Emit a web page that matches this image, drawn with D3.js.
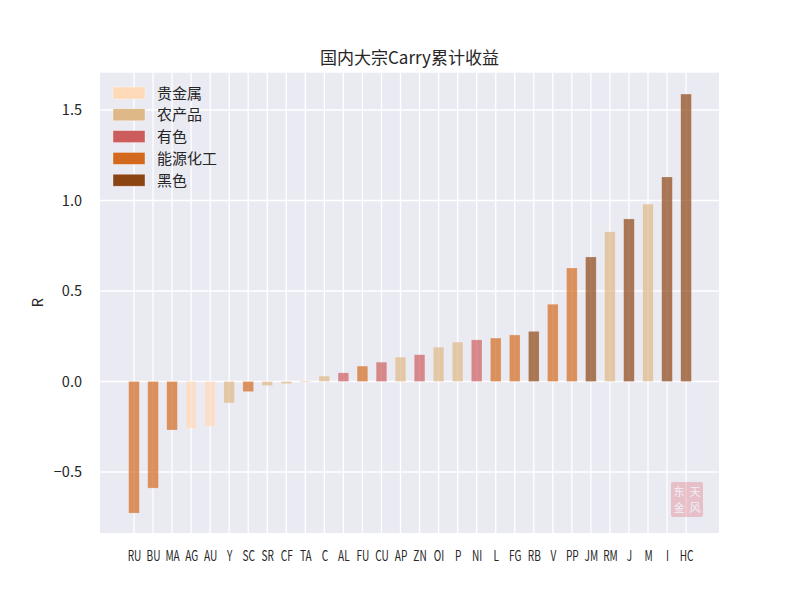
<!DOCTYPE html>
<html><head><meta charset="utf-8">
<script src="https://cdn.jsdelivr.net/npm/d3@7/dist/d3.min.js"></script>
<style>
body{margin:0;background:#fff;}
text{font-family:"Noto Sans CJK SC","DejaVu Sans",sans-serif;fill:#262626;}
</style></head>
<body><svg id="chart" width="800" height="600"></svg>
<script>
const categories = ["RU","BU","MA","AG","AU","Y","SC","SR","CF","TA","C","AL","FU","CU","AP","ZN","OI","P","NI","L","FG","RB","V","PP","JM","RM","J","M","I","HC"];
const values = [-0.727,-0.589,-0.268,-0.259,-0.247,-0.119,-0.056,-0.023,-0.012,0.002,0.030,0.048,0.085,0.107,0.135,0.148,0.190,0.218,0.230,0.240,0.257,0.277,0.427,0.627,0.688,0.827,0.898,0.980,1.130,1.588];
const groups = ["能源化工","能源化工","能源化工","贵金属","贵金属","农产品","能源化工","农产品","农产品","能源化工","农产品","有色","能源化工","有色","农产品","有色","农产品","农产品","有色","能源化工","能源化工","黑色","能源化工","能源化工","黑色","农产品","黑色","农产品","黑色","黑色"];
const legendNames = ["贵金属","农产品","有色","能源化工","黑色"];
const legendColors = ["#FFDAB9","#DEB887","#CD5C5C","#D2691E","#8B4513"];
const yTicks = [-0.5,0.0,0.5,1.0,1.5];
const title = "国内大宗Carry累计收益";
const yLabel = "R";

const svg = d3.select("#chart");
const L=100,R=719,T=72.7,B=533;
const x = d3.scaleLinear().domain([-1.786,30.73]).range([L,R]);
const y = d3.scaleLinear().domain([-0.837,1.706]).range([B,T]);
const color = d3.scaleOrdinal().domain(legendNames).range(legendColors);
const bw = 0.56;

svg.append("rect").attr("x",L).attr("y",T).attr("width",R-L).attr("height",B-T).attr("fill","#EAEAF2");

// grid
const g = svg.append("g");
g.selectAll(".vg").data(categories).join("line")
  .attr("x1",(d,i)=>x(i)).attr("x2",(d,i)=>x(i)).attr("y1",T).attr("y2",B)
  .attr("stroke","#fff").attr("stroke-width",1.3);
g.selectAll(".hg").data(yTicks).join("line")
  .attr("x1",L).attr("x2",R).attr("y1",d=>y(d)).attr("y2",d=>y(d))
  .attr("stroke","#fff").attr("stroke-width",1.3);

// bars
svg.append("g").selectAll("rect").data(values).join("rect")
  .attr("x",(d,i)=>x(i-bw/2)).attr("width",x(bw)-x(0))
  .attr("y",d=>y(Math.max(0,d))).attr("height",d=>Math.abs(y(d)-y(0)))
  .attr("fill",(d,i)=>color(groups[i])).attr("fill-opacity",0.7)
  .attr("stroke","#fff").attr("stroke-opacity",0.35).attr("stroke-width",0.6);

// x tick labels
const xa = d3.axisBottom(x).tickValues(d3.range(categories.length)).tickFormat(i=>categories[i]).tickSize(0).tickPadding(18);
const xg = svg.append("g").attr("transform",`translate(0,${B})`).call(xa);
xg.select(".domain").remove();
xg.selectAll("text").attr("font-size",14).attr("fill","#262626")
  .each(function(){
    const w = this.getComputedTextLength();
    d3.select(this).attr("textLength",w*0.72).attr("lengthAdjust","spacingAndGlyphs");
  });

// y axis
const ya = d3.axisLeft(y).tickValues(yTicks).tickFormat(d3.format(".1f")).tickSize(0).tickPadding(18);
const yg = svg.append("g").attr("transform",`translate(${L},0)`).call(ya);
yg.select(".domain").remove();
yg.selectAll("text").attr("font-size",14.5).attr("fill","#262626").text(d=>d3.format(".1f")(d).replace("-","−"));

svg.append("text").attr("transform",`translate(43,${(T+B)/2}) rotate(-90)`)
  .attr("text-anchor","middle").attr("font-size",15).text(yLabel);

svg.append("text").attr("x",(L+R)/2).attr("y",64).attr("text-anchor","middle")
  .attr("font-size",17).text(title);

// legend
const lg = svg.append("g");
legendNames.forEach((n,i)=>{
  const yy = 93 + i*21.8;
  lg.append("rect").attr("x",113).attr("y",yy-6).attr("width",32).attr("height",12)
    .attr("fill",color(n)).attr("stroke","#fff").attr("stroke-opacity",0.6).attr("stroke-width",0.6);
  lg.append("text").attr("x",157).attr("y",yy+5.5).attr("font-size",15).text(n);
});

// watermark seal
const wm = svg.append("g").attr("opacity",0.3);
wm.append("rect").attr("x",671).attr("y",482).attr("width",32).attr("height",35).attr("fill","#E0606E").attr("rx",2);
[["东",679,496],["天",695,496],["金",679,512],["风",695,512]].forEach(c=>{
  wm.append("text").attr("x",c[1]).attr("y",c[2]).attr("text-anchor","middle").attr("font-size",11)
    .style("fill","#fff").text(c[0]);
});
</script></body></html>
